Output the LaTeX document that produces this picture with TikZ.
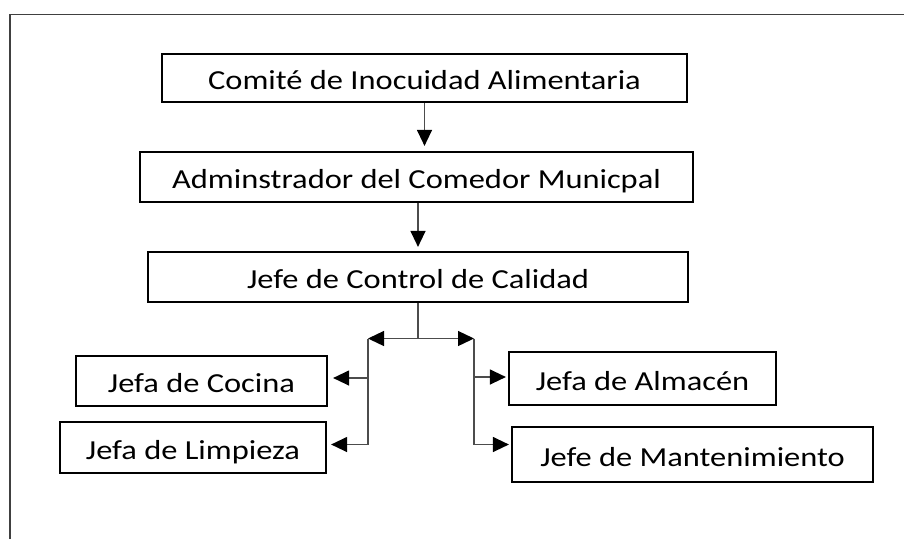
\documentclass[tikz,border=0pt]{standalone}
\usepackage{fontspec}
\setmainfont{Carlito}[FakeStretch=1.18]
\usetikzlibrary{arrows.meta}
\tikzset{
  caja/.style={draw, line width=2.2pt, inner sep=0pt, text height=24pt, text depth=1pt,
    font=\fontsize{27.5}{33}\selectfont},
  enlace/.style={draw=black!70, line width=1.3pt},
}
\begin{document}
\begin{tikzpicture}[>={Triangle[length=16pt,width=15pt,color=black]}, x=1pt, y=-1pt]
\useasboundingbox (0,0) rectangle (904,539);
\draw[line width=1.3pt, black!75] (10,539)--(10,14.5)--(904,14.5);

\node[caja, minimum width=525pt, minimum height=48pt] (comite) at (424.5,78) {Comité de Inocuidad Alimentaria};
\node[caja, minimum width=553pt, minimum height=50pt] (admin) at (416.5,177) {Adminstrador del Comedor Municpal};
\node[caja, minimum width=540pt, minimum height=50pt] (control) at (418,277) {Jefe de Control de Calidad};

\node[caja, minimum width=251pt, minimum height=50pt] (cocina) at (201.5,381) {Jefa de Cocina};
\node[caja, minimum width=266pt, minimum height=51pt] (limpieza) at (193,447.5) {Jefa de Limpieza};
\node[caja, minimum width=267pt, minimum height=53pt] (almacen) at (642.5,378.5) {Jefa de Almacén};
\node[caja, minimum width=361pt, minimum height=55pt] (mante) at (692.5,454.5) {Jefe de Mantenimiento};

\draw[enlace, ->, shorten >=5pt] (comite.south)--(comite.south |- admin.north);
\draw[enlace, ->, shorten >=4pt] (control.north |- admin.south)--(control.north);

\coordinate (izq) at (368,338.5);
\coordinate (der) at (474,338.5);
\draw[enlace] (control.south)--(control.south |- izq);
\draw[enlace, <->] (izq)--(der);

\draw[enlace, ->, shorten >=5pt] (izq) |- ([yshift=3pt]cocina.east);
\draw[enlace, ->, shorten >=4pt] (izq) |- ([yshift=3pt]limpieza.east);
\draw[enlace, ->, shorten >=2pt] (der) |- ([yshift=1.5pt]almacen.west);
\draw[enlace, ->, shorten >=2pt] (der) |- ([yshift=10pt]mante.west);

\end{tikzpicture}
\end{document}
